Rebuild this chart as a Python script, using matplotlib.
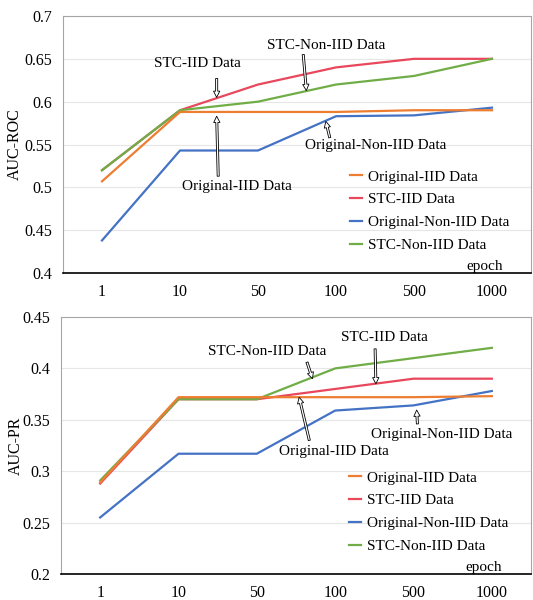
import numpy as np
import matplotlib
matplotlib.use("Agg")
import matplotlib.pyplot as plt

plt.rcParams['font.family'] = ['Liberation Serif', 'DejaVu Serif']

epochs = ["1", "10", "50", "100", "500", "1000"]
series_names = ["Original-IID Data", "STC-IID Data", "Original-Non-IID Data", "STC-Non-IID Data"]
colors = ["#ED7D31", "#E8475C", "#4472C4", "#70AD47"]

# AUC-ROC
roc_orig_iid = [0.507, 0.588, 0.588, 0.588, 0.590, 0.590]
roc_stc_iid = [0.520, 0.590, 0.620, 0.640, 0.650, 0.650]
roc_orig_noniid = [0.438, 0.543, 0.543, 0.583, 0.584, 0.593]
roc_stc_noniid = [0.520, 0.590, 0.600, 0.620, 0.630, 0.650]

# AUC-PR
pr_orig_iid = [0.289, 0.372, 0.372, 0.372, 0.372, 0.373]
pr_stc_iid = [0.288, 0.370, 0.370, 0.380, 0.390, 0.390]
pr_orig_noniid = [0.255, 0.317, 0.317, 0.359, 0.364, 0.378]
pr_stc_noniid = [0.291, 0.370, 0.370, 0.400, 0.410, 0.420]

FS = 11
W, H = 533, 600


def hollow_note(ax, text, xytext, xytail, xytip):
    ax.text(xytext[0], xytext[1], text, ha='center', va='center', fontsize=FS)
    ax.annotate("", xy=xytip, xytext=xytail,
                arrowprops=dict(arrowstyle='simple,head_length=0.45,head_width=0.45,tail_width=0.15',
                                fc='white', ec='black', lw=0.6, shrinkA=0, shrinkB=0))


def setup(ax, series, ylim, yticks, ylabel):
    x = np.arange(len(epochs))
    # draw so orange ends on top like reference
    order = [2, 1, 3, 0]
    lines = {}
    for i in order:
        ln, = ax.plot(x, series[i], color=colors[i], lw=1.6, label=series_names[i])
        lines[i] = ln
    ax.set_xlim(-0.5, len(epochs) - 0.5)
    ax.set_ylim(*ylim)
    ax.set_yticks(yticks)
    ax.set_yticklabels([f"{v:g}" for v in yticks], fontsize=FS + 0.5)
    ax.set_xticks(x)
    ax.set_xticklabels(epochs, fontsize=FS + 0.5)
    ax.tick_params(axis='both', length=0)
    ax.tick_params(axis='x', pad=8)
    ax.tick_params(axis='y', pad=8)
    ax.grid(axis='y', color='#e6e6e6', lw=0.8)
    ax.set_axisbelow(True)
    for s in ['left', 'top', 'right']:
        ax.spines[s].set_color('#a6a6a6')
        ax.spines[s].set_linewidth(0.8)
    ax.spines['bottom'].set_color('black')
    ax.spines['bottom'].set_linewidth(1.2)
    ax.set_ylabel(ylabel, fontsize=FS + 0.5)
    ax.text(0.90, 0.0, "epoch", transform=ax.transAxes, ha='center', va='bottom', fontsize=FS)
    ax.legend([lines[i] for i in range(4)], series_names, loc='upper left',
              bbox_to_anchor=(0.60, 0.425), frameon=False, fontsize=FS,
              handlelength=0.8, handletextpad=0.4, labelspacing=0.6, borderaxespad=0)


fig = plt.figure(figsize=(W / 100, H / 100), dpi=100)

ax1 = fig.add_axes([63 / W, 1 - 273 / H, 468 / W, 257 / H])
setup(ax1, [roc_orig_iid, roc_stc_iid, roc_orig_noniid, roc_stc_noniid],
      (0.4, 0.7), [0.4, 0.45, 0.5, 0.55, 0.6, 0.65, 0.7], "AUC-ROC")
ax1.yaxis.set_label_coords(-0.085, 0.5)
hollow_note(ax1, "STC-IID Data", (1.22, 0.645), (1.47, 0.627), (1.47, 0.605))
hollow_note(ax1, "STC-Non-IID Data", (2.88, 0.666), (2.58, 0.655), (2.62, 0.613))
hollow_note(ax1, "Original-IID Data", (1.73, 0.501), (1.49, 0.513), (1.47, 0.583))
hollow_note(ax1, "Original-Non-IID Data", (3.51, 0.549), (2.92, 0.558), (2.87, 0.577))

ax2 = fig.add_axes([61 / W, 1 - 574 / H, 470 / W, 257 / H])
setup(ax2, [pr_orig_iid, pr_stc_iid, pr_orig_noniid, pr_stc_noniid],
      (0.2, 0.45), [0.2, 0.25, 0.3, 0.35, 0.4, 0.45], "AUC-PR")
ax2.yaxis.set_label_coords(-0.08, 0.5)
hollow_note(ax2, "STC-Non-IID Data", (2.13, 0.416), (2.64, 0.406), (2.71, 0.390))
hollow_note(ax2, "STC-IID Data", (3.63, 0.4305), (3.51, 0.419), (3.52, 0.385))
hollow_note(ax2, "Original-IID Data", (2.98, 0.3187), (2.67, 0.330), (2.54, 0.372))
hollow_note(ax2, "Original-Non-IID Data", (4.36, 0.336), (4.05, 0.346), (4.04, 0.3595))

fig.savefig("out.png", dpi=100, facecolor='white')
